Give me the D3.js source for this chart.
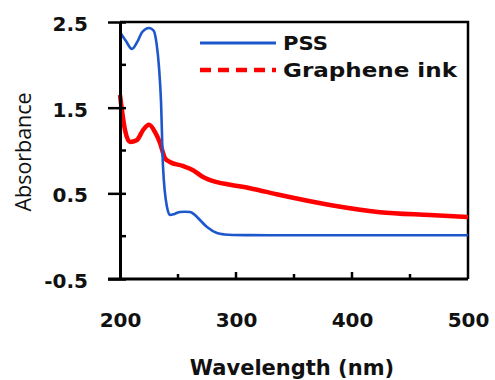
<!DOCTYPE html>
<html><head><meta charset="utf-8">
<script src="https://cdn.jsdelivr.net/npm/d3@7"></script>
<style>body{margin:0;background:#fff}svg{display:block}</style>
</head><body><svg id="c" width="495" height="380"></svg>
<script>
// Data
const pssWavelength = [200,205,210.3,215,219,225,229,231.5,233.6,235.3,237.1,240.5,243.1,247,251.7,256,260.3,263.5,266.4,275,283.6,290,297.4,312,340,400,450,500];
const pssAbsorbance = [2.38,2.28,2.185,2.27,2.38,2.43,2.40,2.25,1.975,1.589,0.807,0.34,0.247,0.26,0.282,0.285,0.282,0.26,0.224,0.107,0.037,0.02,0.014,0.012,0.01,0.01,0.01,0.01];
const inkWavelength = [200,204.3,208.6,214.4,220,225,230,234.5,238.8,243,254,263,271.6,283.6,295,312,338,381,424,467,500];
const inkAbsorbance = [1.647,1.24,1.1,1.12,1.24,1.30,1.22,1.087,0.91,0.866,0.82,0.77,0.69,0.63,0.6,0.56,0.48,0.364,0.28,0.247,0.224];
const xTickLabels = [200,300,400,500];
const yTickLabels = [2.5,1.5,0.5,-0.5];
const xMinorTicks = [250,300,350,400,450];
const yMinorTicks = [2.0,1.0,0.0];
const seriesNames = ["PSS","Graphene ink"];

const svg = d3.select("#c");
const x = d3.scaleLinear().domain([200,500]).range([120,468]);
const y = d3.scaleLinear().domain([-0.5,2.5]).range([279,22]);
const bold = "'DejaVu Sans', Verdana, sans-serif";

// frame (top and right)
svg.append("path").attr("d", `M${x(200)},${y(2.5)}H${x(500)}V${y(-0.5)}`)
  .attr("fill","none").attr("stroke","#000").attr("stroke-width",2.5);

// lines
const line = d3.line().curve(d3.curveMonotoneX);
svg.append("path")
  .attr("d", line(inkWavelength.map((w,i)=>[x(w), y(inkAbsorbance[i])])))
  .attr("fill","none").attr("stroke","#ff0000").attr("stroke-width",4.5).attr("stroke-linejoin","round");
svg.append("path")
  .attr("d", line(pssWavelength.map((w,i)=>[x(w), y(pssAbsorbance[i])])))
  .attr("fill","none").attr("stroke","#1c57cc").attr("stroke-width",2.6).attr("stroke-linejoin","round");

// Y axis
const yAxis = d3.axisLeft(y).tickValues(yTickLabels).tickFormat(d => d.toFixed(1))
  .tickSizeInner(12).tickSizeOuter(0).tickPadding(20);
const gy = svg.append("g").attr("transform",`translate(${x(200)},0)`).call(yAxis);
gy.select(".domain").attr("stroke-width",3);
gy.selectAll(".tick line").attr("x2",-12).attr("x1",6).attr("stroke-width",2.5);
gy.selectAll(".tick text").attr("font-family",bold).attr("font-weight","bold").attr("font-size",20).attr("fill","#111").attr("dy","0.42em");
svg.append("g").selectAll("line").data(yMinorTicks).join("line")
  .attr("x1",x(200)).attr("x2",x(200)+6).attr("y1",d=>y(d)).attr("y2",d=>y(d))
  .attr("stroke","#000").attr("stroke-width",2.5);

// X axis
const xAxis = d3.axisBottom(x).tickValues(xTickLabels).tickFormat(d3.format("d"))
  .tickSize(0).tickPadding(34);
const gx = svg.append("g").attr("transform",`translate(0,${y(-0.5)})`).call(xAxis);
gx.select(".domain").attr("stroke-width",3).attr("d",`M${x(200)-12},0H${x(500)}`);
gx.selectAll(".tick text").attr("font-family",bold).attr("font-weight","bold").attr("font-size",20).attr("fill","#111");
svg.append("g").selectAll("line").data(xMinorTicks).join("line")
  .attr("x1",d=>x(d)).attr("x2",d=>x(d)).attr("y1",y(-0.5)).attr("y2",d=>y(-0.5)-(d%100===0?7:5))
  .attr("stroke","#000").attr("stroke-width",2.5);

// axis titles
svg.append("text").attr("x",292).attr("y",375).attr("text-anchor","middle")
  .attr("font-family",bold).attr("font-weight","bold").attr("font-size",21).attr("fill","#111")
  .text("Wavelength (nm)");
svg.append("text").attr("transform","translate(31,152) rotate(-90)").attr("text-anchor","middle")
  .attr("font-family","'Open Sans', 'DejaVu Sans', sans-serif").attr("font-size",21).attr("fill","#111")
  .attr("textLength",119).attr("lengthAdjust","spacingAndGlyphs")
  .text("Absorbance");

// legend
const leg = svg.append("g");
const legY = [43,70];
leg.append("line").attr("x1",200).attr("x2",276).attr("y1",legY[0]).attr("y2",legY[0])
  .attr("stroke","#1c57cc").attr("stroke-width",3);
leg.append("line").attr("x1",200).attr("x2",276).attr("y1",legY[1]).attr("y2",legY[1])
  .attr("stroke","#ff0000").attr("stroke-width",4.5).attr("stroke-dasharray","11,7");
leg.selectAll("text").data(seriesNames).join("text")
  .attr("x",283).attr("y",(d,i)=>legY[i]+7)
  .attr("font-family",bold).attr("font-weight","bold").attr("font-size",19).attr("fill","#111")
  .attr("textLength",(d,i)=>i===0?45:174).attr("lengthAdjust","spacingAndGlyphs")
  .text(d=>d);
</script></body></html>
